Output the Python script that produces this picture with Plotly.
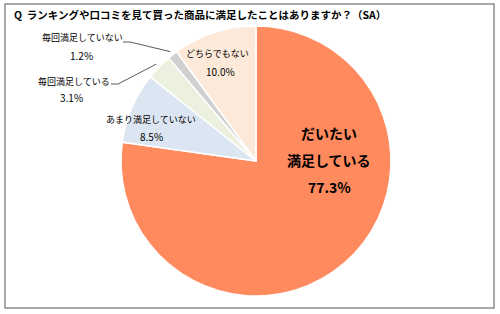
import math
import plotly.graph_objects as go

labels = ["だいたい満足している", "あまり満足していない", "毎回満足している", "毎回満足していない", "どちらでもない"]
values = [77.3, 8.5, 3.1, 1.2, 10.0]
colors = ["#FF8A5E", "#DCE6F2", "#EBF1DE", "#D0D0D0", "#FDE9D9"]
title = "Q  ランキングや口コミを見て買った商品に満足したことはありますか？（SA）"

W, H = 500, 314
FONT = "Noto Sans CJK JP"

def px(x, y):
    return x / W, 1 - y / H

# pie geometry (pixels)
cx, cy, R = 256, 161, 135
dom_x = [(cx - R) / W, (cx + R) / W]
dom_y = [1 - (cy + R) / H, 1 - (cy - R) / H]

fig = go.Figure(go.Pie(
    labels=labels, values=values, sort=False, direction="clockwise", rotation=0,
    marker=dict(colors=colors, line=dict(color="white", width=1.5)),
    textinfo="none", hoverinfo="label+percent", showlegend=False,
    domain=dict(x=dom_x, y=dom_y),
))

total = sum(values)
def slice_point(i, rf=1.02):
    start = sum(values[:i]) / total
    mid = start + values[i] / total / 2
    a = 2 * math.pi * mid
    return cx + R * rf * math.sin(a), cy - R * rf * math.cos(a)

ann = []
def add_text(x, y, text, size, bold=False, xanchor="center"):
    X, Y = px(x, y)
    t = f"<b>{text}</b>" if bold else text
    ann.append(dict(x=X, y=Y, xref="paper", yref="paper", text=t, showarrow=False,
                    xanchor=xanchor, yanchor="middle",
                    font=dict(family=FONT, size=size, color="#000000")))

# title
add_text(12, 15, title, 10.5, bold=True, xanchor="left")

# main slice label
name0 = labels[0]
add_text(329, 133, name0[:4], 14, bold=True)
add_text(329, 160, name0[4:], 14, bold=True)
add_text(329, 187, f"{values[0]:.1f}%", 14, bold=True)

# どちらでもない
add_text(217, 54, labels[4], 9)
add_text(220, 72, f"{values[4]:.1f}%", 10)

# あまり満足していない
add_text(151, 119, labels[1], 9)
add_text(151, 136, f"{values[1]:.1f}%", 10)

# 毎回満足している
add_text(74, 81, labels[2], 9)
add_text(71, 97, f"{values[2]:.1f}%", 10)

# 毎回満足していない
add_text(82, 38, labels[3], 9)
add_text(81, 56, f"{values[3]:.1f}%", 10)

shapes = []
def leader(p0, p1, p2):
    pts = [px(*p) for p in (p0, p1, p2)]
    path = "M {} {} L {} {} L {} {}".format(*[c for p in pts for c in p])
    shapes.append(dict(type="path", xref="paper", yref="paper", path=path,
                       line=dict(color="#595959", width=1)))

leader((111, 84), (118, 84), slice_point(2, 1.03))
leader((123, 42), (130, 42), slice_point(3, 1.03))

# frame
x0, y0 = px(5, 308)
x1, y1 = px(494, 4)
shapes.append(dict(type="rect", xref="paper", yref="paper", x0=x0, y0=y0, x1=x1, y1=y1,
                   line=dict(color="#8C8C8C", width=1.5)))

fig.update_layout(
    width=W, height=H, margin=dict(l=0, r=0, t=0, b=0),
    paper_bgcolor="white", plot_bgcolor="white",
    annotations=ann, shapes=shapes,
    font=dict(family=FONT),
)

fig.write_html("out.html")
